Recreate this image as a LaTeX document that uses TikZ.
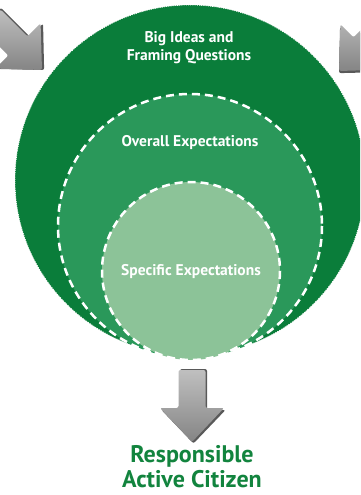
\documentclass[tikz,border=0pt]{standalone}
\usepackage{fontspec}
\setmainfont{PT Sans}
\usetikzlibrary{positioning}

\definecolor{darkgreen}{RGB}{10,125,58}
\definecolor{midgreen}{RGB}{42,152,90}
\definecolor{lightgreen}{RGB}{140,195,152}
\definecolor{textgreen}{RGB}{18,132,62}

% block arrow: tip x, tip y, rotation
\newcommand{\blockarrow}[3]{%
  \begin{scope}[shift={(#1,#2)}, rotate=#3, rounded corners=2]
    \fill[black!65] (1.5,1.5) -- (33.5,-32) -- (15,-32) -- (15,-73) -- (-12,-73) -- (-12,-32) -- (-30.5,-32) -- cycle;
    \shade[top color=black!25, bottom color=black!48] (0,0) -- (32,-34) -- (13.5,-34) -- (13.5,-72) -- (-13.5,-72) -- (-13.5,-34) -- (-32,-34) -- cycle;
  \end{scope}}

\begin{document}
\begin{tikzpicture}[x=1pt, y=-1pt,
  ring/.style = {draw=white, line width=2.5pt, dash pattern=on 8pt off 5pt},
  intext/.style = {text=white, align=center, inner sep=0pt, font=\bfseries\fontsize{15.5}{18}\selectfont},
  outtext/.style = {text=textgreen, align=center, inner sep=0pt, font=\bfseries\fontsize{24}{25}\selectfont}]
  \path[use as bounding box, clip] (0,0) rectangle (360,495);
  \fill[white] (0,0) rectangle (360,495);
	% circles
	\fill[darkgreen] (190,180) circle (175);
	\draw[white, line width=0.7pt, dash pattern=on 1pt off 1.2pt] (190,180) circle (175);
	\filldraw[ring, fill=midgreen] (190,226) circle (132);
	\filldraw[ring, fill=lightgreen] (191,271) circle (89);
	% texts
	\node[intext] (bigideas) at (189,48) {Big Ideas and\\Framing Questions};
	\node[intext] (overall) at (190,143) {Overall Expectations};
	\node[intext] (specific) at (191,272) {Specific Expectations};
	\node[outtext] (citizen) at (192,467) {Responsible\\Active Citizen};
	% arrows
	\blockarrow{42}{70}{45}
	\blockarrow{339}{71}{-45}
	\blockarrow{192}{442}{0}
\end{tikzpicture}
\end{document}
